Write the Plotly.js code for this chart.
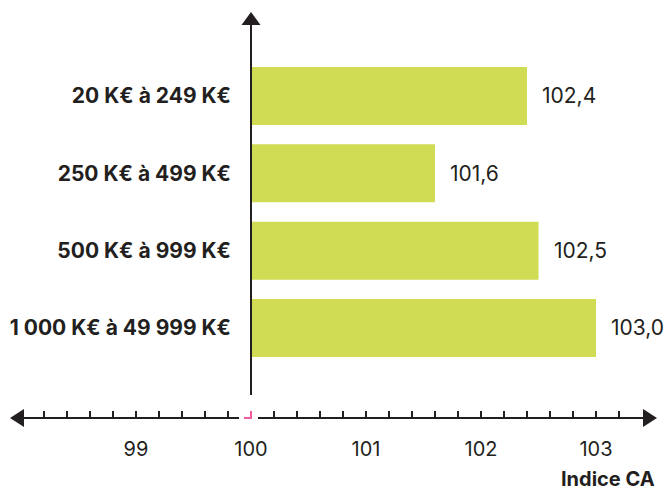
<!DOCTYPE html>
<html>
<head>
<meta charset="utf-8">
<script src="https://cdn.plot.ly/plotly-3.0.1.min.js"></script>
<style>html,body{margin:0;padding:0;background:#fff;}#chart{width:670px;height:493px;}</style>
</head>
<body>
<div id="chart"></div>
<script>
const categories = ["20 K€ à 249 K€", "250 K€ à 499 K€", "500 K€ à 999 K€", "1 000 K€ à 49 999 K€"];
const values = [102.4, 101.6, 102.5, 103.0];
const baseValue = 100;
const tickValues = [98.2, 98.4, 98.6, 98.8, 99, 99.2, 99.4, 99.6, 99.8, 100, 100.2, 100.4, 100.6, 100.8, 101, 101.2, 101.4, 101.6, 101.8, 102, 102.2, 102.4, 102.6, 102.8, 103, 103.2];
const tickLabels = ["", "", "", "", "99", "", "", "", "", "100", "", "", "", "", "101", "", "", "", "", "102", "", "", "", "", "103", ""];
const axisTitle = "Indice CA";

const FONT = "Inter, 'DejaVu Sans', sans-serif";
const INK = "#231f20";
const BAR = "#d1dc55";
const PINK = "#ef5da0";

const fmt = v => v.toFixed(1).replace(".", ",");

const trace = {
  type: "bar",
  orientation: "h",
  y: categories,
  x: values.map(v => v - baseValue),
  base: baseValue,
  marker: {color: BAR},
  hoverinfo: "skip",
  cliponaxis: false
};

const annotations = values.map((v, i) => ({
  x: v, y: categories[i], xref: "x", yref: "y",
  text: fmt(v), showarrow: false, xanchor: "left", xshift: 13,
  font: {family: FONT, size: 21, color: INK}
}));
annotations.push({
  x: 1, y: 0, xref: "paper", yref: "paper", yshift: -61,
  text: "<b>" + axisTitle + "</b>", showarrow: false, xanchor: "right", yanchor: "middle",
  font: {family: FONT, size: 20, color: INK}
});

const shapes = [
  // x axis line with gap at 100
  {type: "line", xref: "paper", yref: "paper", x0: 0.01, x1: 0.354, y0: 0, y1: 0, line: {color: INK, width: 2}},
  {type: "line", xref: "paper", yref: "paper", x0: 0.3833, x1: 0.985, y0: 0, y1: 0, line: {color: INK, width: 2}},
  // arrows
  {type: "path", xref: "paper", yref: "paper", xsizemode: "pixel", ysizemode: "pixel", xanchor: 0, yanchor: 0,
   path: "M 0,0 L 14,9 L 14,-9 Z", fillcolor: INK, line: {width: 0}},
  {type: "path", xref: "paper", yref: "paper", xsizemode: "pixel", ysizemode: "pixel", xanchor: 1, yanchor: 0,
   path: "M 0,0 L -14,9 L -14,-9 Z", fillcolor: INK, line: {width: 0}},
  // y axis line
  {type: "line", xref: "x", yref: "paper", x0: baseValue, x1: baseValue, y0: 0.0567, y1: 0.97, line: {color: INK, width: 2}, layer: "above"},
  {type: "path", xref: "x", yref: "paper", xsizemode: "pixel", ysizemode: "pixel", xanchor: baseValue, yanchor: 0.968,
   path: "M -9.5,0 L 9.5,0 L 0,13 Z", fillcolor: INK, line: {width: 0}},
  // pink break mark
  {type: "path", xref: "x", yref: "paper", xsizemode: "pixel", ysizemode: "pixel", xanchor: baseValue, yanchor: 0,
   path: "M -7,0 L 0,0 L 0,7", line: {color: PINK, width: 2}, layer: "above"}
];

const layout = {
  width: 670, height: 493,
  margin: {l: 10, r: 13, t: 12, b: 75},
  paper_bgcolor: "#fff", plot_bgcolor: "#fff",
  showlegend: false,
  bargap: 0.25,
  xaxis: {
    range: [97.9043, 103.5304],
    tickmode: "array", tickvals: tickValues, ticktext: tickLabels,
    ticks: "inside", ticklen: 7, tickwidth: 2, tickcolor: INK,
    ticklabelstandoff: 17,
    showgrid: false, zeroline: false, showline: false,
    tickfont: {family: FONT, size: 20, color: INK},
    fixedrange: true
  },
  yaxis: {
    type: "category",
    categoryorder: "array", categoryarray: categories.slice().reverse(),
    range: [-1.164, 4.086],
    anchor: "free", position: 0.3725,
    ticks: "", showgrid: false, zeroline: false, showline: false,
    ticklabelstandoff: 20,
    tickfont: {family: FONT, size: 21, color: INK, weight: 700},
    fixedrange: true
  },
  annotations: annotations,
  shapes: shapes
};

Plotly.newPlot("chart", [trace], layout, {displayModeBar: false, staticPlot: true});
</script>
</body>
</html>
